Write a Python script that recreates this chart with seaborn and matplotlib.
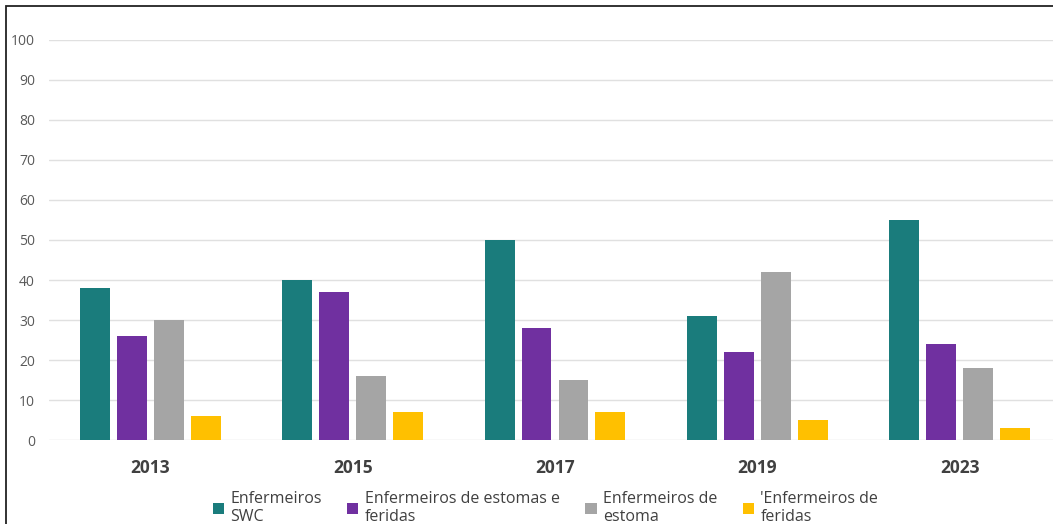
import pandas as pd
import seaborn as sns
import matplotlib.pyplot as plt
from matplotlib.patches import Rectangle

years = ["2013", "2015", "2017", "2019", "2023"]
series = ["Enfermeiros\nSWC", "Enfermeiros de estomas e\nferidas",
          "Enfermeiros de\nestoma", "'Enfermeiros de\nferidas"]
swc = [38, 40, 50, 31, 55]
estomas_feridas = [26, 37, 28, 22, 24]
estoma = [30, 16, 15, 42, 18]
feridas = [6, 7, 7, 5, 3]
colors = ["#1a7c7c", "#7030a0", "#a5a5a5", "#ffc000"]

rows = []
for name, vals in zip(series, [swc, estomas_feridas, estoma, feridas]):
    for y, v in zip(years, vals):
        rows.append({"year": y, "serie": name, "value": v})
df = pd.DataFrame(rows)

sns.set_style("white")
plt.rcParams['font.family'] = ['Open Sans', 'DejaVu Sans']

fig = plt.figure(figsize=(10.53, 5.24), dpi=100)
ax = fig.add_axes([49 / 1053, 84 / 524, 1012 / 1053, 400 / 524])

sns.barplot(data=df, x="year", y="value", hue="serie", order=years,
            hue_order=series, palette=colors, width=0.73, gap=0.19,
            saturation=1, linewidth=0, ax=ax, legend=True)

ax.set_ylim(0, 100)
ax.set_xlim(-0.5, 4.5)
ax.set_yticks(range(0, 101, 10))
ax.yaxis.grid(True, color="#e0e0e0", linewidth=1)
ax.set_axisbelow(True)
for s in ax.spines.values():
    s.set_visible(False)
ax.set_xlabel("")
ax.set_ylabel("")
ax.tick_params(axis="y", length=0, labelsize=10, labelcolor="#595959", pad=10)
ax.tick_params(axis="x", length=0, labelsize=12.5, labelcolor="#404040", pad=14)
for t in ax.get_xticklabels():
    t.set_fontweight("bold")

handles, labels = ax.get_legend_handles_labels()
ax.get_legend().remove()
fig.legend(handles, labels, loc="lower center", bbox_to_anchor=(0.518, -0.03),
           ncol=4, frameon=False, fontsize=11.5, handlelength=0.7, handleheight=0.7,
           handletextpad=0.4, columnspacing=1.6, labelspacing=0.2,
           labelcolor="#404040")

fig.add_artist(Rectangle((6 / 1053, -0.2), 1.5, (518 / 524) + 0.2,
                         transform=fig.transFigure, fill=False,
                         edgecolor="#222222", linewidth=1.3))

fig.savefig("out.png", dpi=100)
